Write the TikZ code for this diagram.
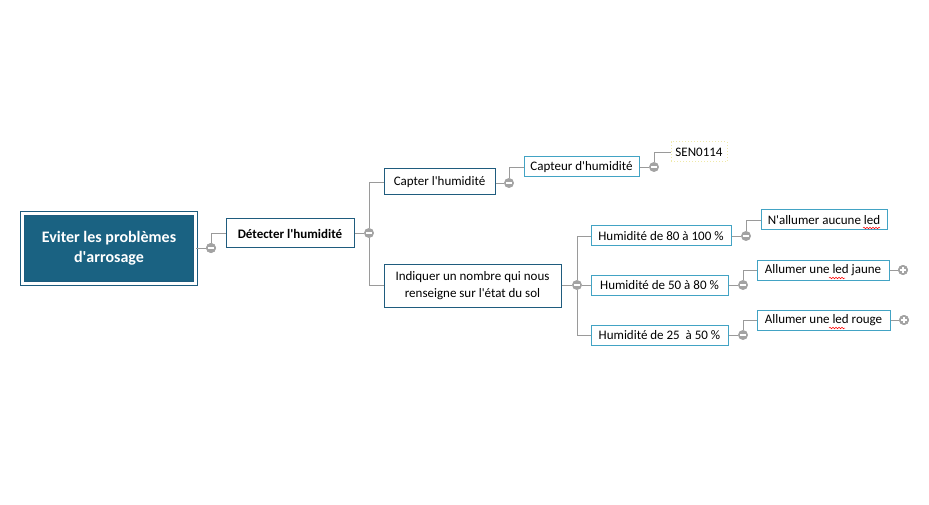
\documentclass[tikz,border=0pt]{standalone}
\usepackage{fontspec}
\setmainfont{Carlito}
\usetikzlibrary{decorations.pathmorphing}
\definecolor{rootfill}{HTML}{1A6282}
\definecolor{rootline}{HTML}{1D5B7D}
\definecolor{mainline}{HTML}{1F5C7E}
\definecolor{subline}{HTML}{42A3C4}
\definecolor{linkgray}{HTML}{9A9A9A}
\definecolor{togglegray}{HTML}{A3A3A3}
\definecolor{senline}{HTML}{EFE9A8}
\newcommand{\apos}{\textquotesingle}
\tikzset{
  topic/.style={draw=mainline, line width=1pt, fill=white, inner sep=0pt,
    align=center, font=\fontsize{13}{17}\selectfont},
  subtopic/.style={topic, draw=subline},
  link/.style={draw=linkgray, line width=0.8pt},
  togminus/.style={circle, fill=togglegray, minimum size=10pt, inner sep=0pt,
    path picture={\draw[white, line width=1.6pt]
      ([xshift=-3pt]path picture bounding box.center) --
      ([xshift=3pt]path picture bounding box.center);}},
  togplus/.style={togminus, path picture={\draw[white, line width=1.6pt]
      ([xshift=-3pt]path picture bounding box.center) --
      ([xshift=3pt]path picture bounding box.center)
      ([yshift=-3pt]path picture bounding box.center) --
      ([yshift=3pt]path picture bounding box.center);}},
  spell/.style={draw=red, line width=0.5pt,
    decorate, decoration={snake, amplitude=0.8pt, segment length=3pt}},
}
\begin{document}
\begin{tikzpicture}[x=1pt, y=-1pt]
  \useasboundingbox (0,0) rectangle (929,505);

  % topics
  \node[draw=rootline, double=white, double distance=3pt, line width=1pt,
    fill=rootfill, text=white, align=center, minimum width=173, minimum height=70,
    font=\bfseries\fontsize{16}{20}\selectfont] (root) at (109,248.5)
    {Eviter les problèmes\\d\apos arrosage};
  \node[topic, minimum width=128, minimum height=29, font=\bfseries\fontsize{13}{17}\selectfont]
    (detect) at (290,233.5) {Détecter l\apos humidité};
  \node[topic, minimum width=111, minimum height=26] (capter) at (439.5,182) {Capter l\apos humidité};
  \node[subtopic, minimum width=115, minimum height=20] (capteur) at (581.5,167) {Capteur d\apos humidité};
  \node[topic, draw=senline, dotted, minimum width=56, minimum height=20] (sen) at (699,152) {SEN0114};
  \node[topic, minimum width=177, minimum height=43] (indiq) at (472.5,285.5)
    {Indiquer un nombre qui nous\\renseigne sur l\apos état du sol};
  \node[subtopic, minimum width=140, minimum height=20] (h80) at (661,236) {Humidité de 80 à 100 \%};
  \node[subtopic, minimum width=137, minimum height=20] (h50) at (659.5,285) {Humidité de 50 à 80 \%};
  \node[subtopic, minimum width=137, minimum height=20] (h25) at (659.5,335) {Humidité de 25~ à 50 \%};
  \node[subtopic, minimum width=126, minimum height=20] (aucune) at (824,220) {N\apos allumer aucune led};
  \node[subtopic, minimum width=132, minimum height=20] (jaune) at (823,270) {Allumer une led jaune};
  \node[subtopic, minimum width=133, minimum height=20] (rouge) at (823.5,320) {Allumer une led rouge};

  % toggles
  \node[togminus] (t0) at (211,248) {};
  \node[togminus] (t1) at (369,233) {};
  \node[togminus] (t2) at (509,183) {};
  \node[togminus] (t3) at (654,167) {};
  \node[togminus] (t4) at (577,285) {};
  \node[togminus] (t5) at (746,236) {};
  \node[togminus] (t6) at (743,285) {};
  \node[togminus] (t7) at (743,335) {};
  \node[togplus] (t8) at (903,270) {};
  \node[togplus] (t9) at (904,320) {};

  % links
  \draw[link] (root.east |- t0) -- (t0);
  \draw[link] (t0) |- (detect.west);
  \draw[link] (detect.east |- t1) -- (t1);
  \draw[link] (t1) |- (capter.west);
  \draw[link] (t1) |- (indiq.west);
  \draw[link] (capter.east |- t2) -- (t2);
  \draw[link] (t2) |- (capteur.west);
  \draw[link] (capteur.east) -- (t3);
  \draw[link] (t3) |- (sen.west);
  \draw[link] (indiq.east |- t4) -- (t4);
  \draw[link] (t4) |- (h80.west);
  \draw[link] (t4) -- (h50.west);
  \draw[link] (t4) |- (h25.west);
  \draw[link] (h80.east) -- (t5);
  \draw[link] (t5) |- (aucune.west);
  \draw[link] (h50.east) -- (t6);
  \draw[link] (t6) |- (jaune.west);
  \draw[link] (h25.east) -- (t7);
  \draw[link] (t7) |- (rouge.west);
  \draw[link] (jaune.east) -- (t8);
  \draw[link] (rouge.east) -- (t9);
  \foreach \t in {t0,...,t7} \node[togminus] at (\t) {};
  \node[togplus] at (t8) {};
  \node[togplus] at (t9) {};

  % spelling marks
  \draw[spell] (863,228) -- (880,228);
  \draw[spell] (829,278) -- (845,278);
  \draw[spell] (829,328) -- (845,328);
\end{tikzpicture}
\end{document}
